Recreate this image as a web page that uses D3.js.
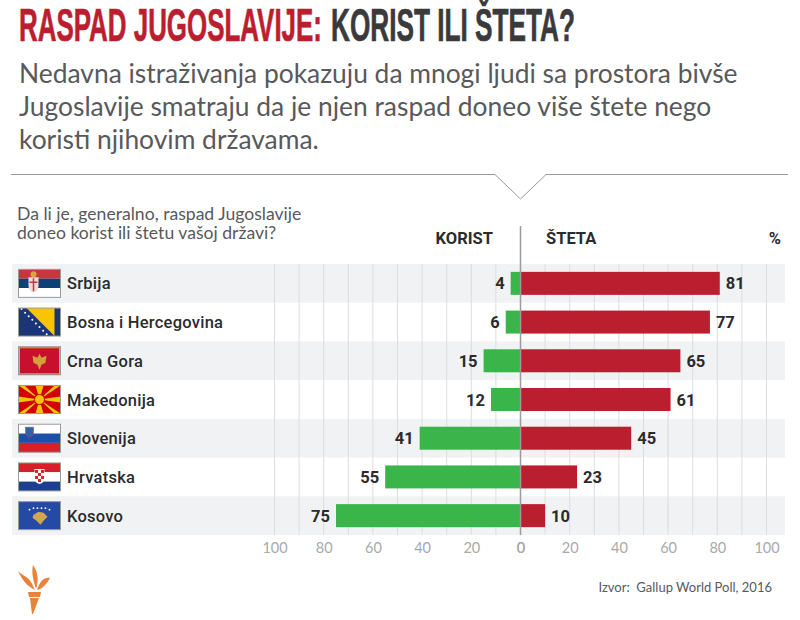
<!DOCTYPE html>
<html>
<head>
<meta charset="utf-8">
<script src="https://cdn.jsdelivr.net/npm/d3@7/dist/d3.min.js"></script>
<style>
  html, body { margin: 0; padding: 0; background: #fff; }
  svg { display: block; }
  text { font-family: Lato, "Open Sans", sans-serif; }
</style>
</head>
<body>
<svg id="chart" width="800" height="620"></svg>
<script>
// Values
const countries = ["Srbija", "Bosna i Hercegovina", "Crna Gora", "Makedonija", "Slovenija", "Hrvatska", "Kosovo"];
const korist = [4, 6, 15, 12, 41, 55, 75];
const steta = [81, 77, 65, 61, 45, 23, 10];
const tickValues = [0, 20, 40, 60, 80, 100];
const gridValues = [10, 20, 30, 40, 50, 60, 70, 80, 90, 100];
const subtitleLines = [
  "Nedavna istraživanja pokazuju da mnogi ljudi sa prostora bivše",
  "Jugoslavije smatraju da je njen raspad doneo više štete nego",
  "koristi njihovim državama."
];
const questionLines = [
  "Da li je, generalno, raspad Jugoslavije",
  "doneo korist ili štetu vašoj državi?"
];

const RED = "#bb1e2f";
const GREEN = "#39b54a";
const svg = d3.select("#chart");

// Scales: both sides grow out of the same zero line
const xRight = d3.scaleLinear().domain([0, 100]).range([520.5, 766.5]);
const xLeft = d3.scaleLinear().domain([0, 100]).range([520.5, 274.5]);
const y = d3.scaleBand().domain(countries).range([264, 535]);
const barH = 23;
const barY = d => y(d) + (y.bandwidth() - barH) / 2;

// Squeeze a text to a given width, the fonts here run wider than the original
function fitWidth(sel, x, baseline, target) {
  const len = sel.node().getComputedTextLength();
  sel.attr("transform", `translate(${x},${baseline}) scale(${target / len},1)`);
}

// ------ Header ------
const narrow = '"Liberation Sans Narrow", sans-serif';
const titleLeft = svg.append("text").text("RASPAD JUGOSLAVIJE:")
  .style("font-family", narrow).style("font-weight", 700).style("font-size", "46px")
  .attr("fill", RED).attr("stroke", RED).attr("stroke-width", 0.7);
fitWidth(titleLeft, 19, 41, 303);
const titleRight = svg.append("text").text("KORIST ILI ŠTETA?")
  .style("font-family", narrow).style("font-weight", 700).style("font-size", "46px")
  .attr("fill", "#3a3a3c").attr("stroke", "#3a3a3c").attr("stroke-width", 0.7);
fitWidth(titleRight, 331, 41, 244);

svg.selectAll("text.sub").data(subtitleLines).join("text")
  .attr("class", "sub")
  .attr("x", 19)
  .attr("y", (d, i) => 83 + i * 33)
  .style("font-size", "26.4px")
  .attr("fill", "#58595b")
  .text(d => d);

// Divider with the little notch pointing down at the chart
svg.append("path")
  .attr("d", "M11,174.5H495L520.5,199L546,174.5H788")
  .attr("fill", "none").attr("stroke", "#9a9a9a").attr("stroke-width", 1);

svg.selectAll("text.question").data(questionLines).join("text")
  .attr("class", "question")
  .attr("x", 17)
  .attr("y", (d, i) => 220 + i * 19)
  .style("font-size", "17.6px")
  .attr("fill", "#58595b")
  .text(d => d);

// ------ Rows and grid ------
svg.selectAll("rect.band").data(countries.filter((d, i) => i % 2 === 0)).join("rect")
  .attr("class", "band")
  .attr("x", 12).attr("width", 773)
  .attr("y", d => y(d)).attr("height", y.bandwidth())
  .attr("fill", "#f1f2f4");

const grid = svg.append("g");
[xLeft, xRight].forEach(scale => {
  grid.selectAll(null).data(gridValues).join("line")
    .attr("x1", d => scale(d)).attr("x2", d => scale(d))
    .attr("y1", 264).attr("y2", 535)
    .attr("stroke", "#dcdde0").attr("stroke-width", 1);
});

// ------ Bars ------
svg.selectAll("rect.korist").data(countries).join("rect")
  .attr("class", "korist")
  .attr("x", (d, i) => xLeft(korist[i]))
  .attr("y", barY)
  .attr("width", (d, i) => xRight(0) - xLeft(korist[i]))
  .attr("height", barH)
  .attr("fill", GREEN);

svg.selectAll("rect.steta").data(countries).join("rect")
  .attr("class", "steta")
  .attr("x", xRight(0))
  .attr("y", barY)
  .attr("width", (d, i) => xRight(steta[i]) - xRight(0))
  .attr("height", barH)
  .attr("fill", RED);

// Zero line runs up past the rows to the column headings
svg.append("line")
  .attr("x1", xRight(0)).attr("x2", xRight(0))
  .attr("y1", 226).attr("y2", 535)
  .attr("stroke", "#9b9b9b").attr("stroke-width", 1.5);

// Value labels
const bold = "Roboto, sans-serif";
const valueStyle = sel => sel
  .attr("y", d => y(d) + y.bandwidth() / 2 + 6)
  .style("font-family", bold).style("font-size", "16.5px").style("font-weight", 700)
  .attr("fill", "#2b2b2d");

svg.selectAll("text.valL").data(countries).join("text")
  .attr("class", "valL")
  .attr("x", (d, i) => xLeft(korist[i]) - 6)
  .attr("text-anchor", "end")
  .call(valueStyle)
  .text((d, i) => korist[i]);

svg.selectAll("text.valR").data(countries).join("text")
  .attr("class", "valR")
  .attr("x", (d, i) => xRight(steta[i]) + 6)
  .call(valueStyle)
  .text((d, i) => steta[i]);

// Column headings
const heading = (label, x, anchor) => svg.append("text").text(label)
  .attr("x", x).attr("y", 244).attr("text-anchor", anchor)
  .style("font-family", bold).style("font-size", "16.5px").style("font-weight", 700)
  .attr("fill", "#2b2b2d");
heading("KORIST", 493, "end");
heading("ŠTETA", 546, "start");
heading("%", 781, "end");

// Country names
svg.selectAll("text.country").data(countries).join("text")
  .attr("class", "country")
  .attr("x", 67)
  .attr("y", d => y(d) + y.bandwidth() / 2 + 6)
  .style("font-family", bold).style("font-size", "16.5px").style("font-weight", 500)
  .attr("letter-spacing", 0.25)
  .attr("fill", "#2b2b2d")
  .text(d => d);

// ------ Axes ------
[xLeft, xRight].forEach(scale => {
  const axis = svg.append("g")
    .attr("transform", "translate(0,535)")
    .call(d3.axisBottom(scale).tickValues(tickValues).tickSize(0).tickPadding(8));
  axis.select(".domain").remove();
  axis.selectAll("text")
    .style("font-family", "Lato, sans-serif").style("font-size", "14.5px")
    .attr("fill", "#a7a9ac");
});

// ------ Flags, 42x28 ------
const flagW = 42, flagH = 28;
function flagStripes(g, colors) {
  colors.forEach((c, i) => g.append("rect")
    .attr("y", i * flagH / colors.length).attr("width", flagW).attr("height", flagH / colors.length)
    .attr("fill", c));
}
function crest(g, cx, top, color) {
  g.append("path")
    .attr("d", `M${cx - 5},${top}h10v8q0,6,-5,7q-5,-1,-5,-7z`)
    .attr("fill", color);
}
const flags = {
  "Srbija": g => {
    flagStripes(g, ["#c6363c", "#0c4076", "#ffffff"]);
    g.append("circle").attr("cx", 15).attr("cy", 5).attr("r", 3).attr("fill", "#d9a441");
    crest(g, 15, 8, "#f1d9d9");
    g.append("path").attr("d", "M15,9V22M11,13H19").attr("stroke", "#c6363c").attr("stroke-width", 1.5);
  },
  "Bosna i Hercegovina": g => {
    g.append("rect").attr("width", flagW).attr("height", flagH).attr("fill", "#1c3578");
    g.append("path").attr("d", "M8,0H36V28Z").attr("fill", "#f7c600");
    d3.range(8).forEach(i => g.append("circle")
      .attr("cx", 3 + i * 3.6).attr("cy", 1 + i * 3.6).attr("r", 1).attr("fill", "#fff"));
  },
  "Crna Gora": g => {
    g.append("rect").attr("width", flagW).attr("height", flagH).attr("fill", "#c8102e");
    g.append("rect").attr("x", 1).attr("y", 1).attr("width", flagW - 2).attr("height", flagH - 2)
      .attr("fill", "none").attr("stroke", "#d3ae3b").attr("stroke-width", 1);
    // spread wings and body of the eagle
    g.append("path").attr("d", "M14,9L19,11L21,7L23,11L28,9L27,16L23,18L21,23L19,18L15,16Z").attr("fill", "#d3a13b");
  },
  "Makedonija": g => {
    g.append("rect").attr("width", flagW).attr("height", flagH).attr("fill", "#d20000");
    const cx = flagW / 2, cy = flagH / 2;
    const rays = [[0, 0, 6, 0], [flagW - 6, 0, flagW, 0], [0, flagH, 6, flagH], [flagW, flagH, flagW - 6, flagH],
      [cx - 4, 0, cx + 4, 0], [cx - 4, flagH, cx + 4, flagH], [0, cy - 3, 0, cy + 3], [flagW, cy - 3, flagW, cy + 3]];
    rays.forEach(r => g.append("path")
      .attr("d", `M${cx},${cy}L${r[0]},${r[1]}L${r[2]},${r[3]}Z`).attr("fill", "#f4c20d"));
    g.append("circle").attr("cx", cx).attr("cy", cy).attr("r", 5)
      .attr("fill", "#f4c20d").attr("stroke", "#d20000").attr("stroke-width", 1);
  },
  "Slovenija": g => {
    flagStripes(g, ["#ffffff", "#1b50a8", "#d5202a"]);
    g.append("path").attr("d", "M7,3h8v5q0,4,-4,5q-4,-1,-4,-5z")
      .attr("fill", "#2a62b0").attr("stroke", "#c8373c").attr("stroke-width", 0.6);
  },
  "Hrvatska": g => {
    flagStripes(g, ["#d5202a", "#ffffff", "#1c3f8f"]);
    crest(g, 21, 6, "#fff");
    // checkerboard on the shield
    d3.range(4).forEach(r => d3.range(3).forEach(c => {
      if ((r + c) % 2 === 0) g.append("rect")
        .attr("x", 16.5 + c * 3).attr("y", 7 + r * 3).attr("width", 3).attr("height", 3).attr("fill", "#d5202a");
    }));
  },
  "Kosovo": g => {
    g.append("rect").attr("width", flagW).attr("height", flagH).attr("fill", "#244aa5");
    g.append("path").attr("d", "M15,13L20,10L25,11L29,15L25,19L22,23L18,19L14,16Z").attr("fill", "#d0a650");
    d3.range(6).forEach(i => g.append("circle")
      .attr("cx", 11 + i * 4).attr("cy", i === 0 || i === 5 ? 8 : 6.5).attr("r", 0.9).attr("fill", "#fff"));
  }
};
countries.forEach(name => {
  const g = svg.append("g")
    .attr("transform", `translate(18.5,${y(name) + (y.bandwidth() - flagH) / 2})`);
  flags[name](g);
  g.append("rect").attr("width", flagW).attr("height", flagH)
    .attr("fill", "none").attr("stroke", "#9a9a9a").attr("stroke-width", 1);
});

// ------ Footer ------
svg.append("text").text("Izvor:  Gallup World Poll, 2016")
  .attr("x", 772).attr("y", 592).attr("text-anchor", "end")
  .attr("xml:space", "preserve")
  .style("font-size", "13px")
  .attr("fill", "#58595b");

// Torch logo
const logo = svg.append("g").attr("fill", "#e8833a");
logo.append("path").attr("d", "M18,571C25,578 29,575 35,590C28,586 23,582 18,571Z");
logo.append("path").attr("d", "M33,565C38,572 39,580 36,589C34,582 31,574 33,565Z");
logo.append("path").attr("d", "M50,578C44,577 40,581 37,590C42,589 46,585 50,578Z");
logo.append("path").attr("d", "M28,592H41L40,597H29Z");
logo.append("path").attr("d", "M30,598H39L33,614H32Z");
</script>
</body>
</html>
